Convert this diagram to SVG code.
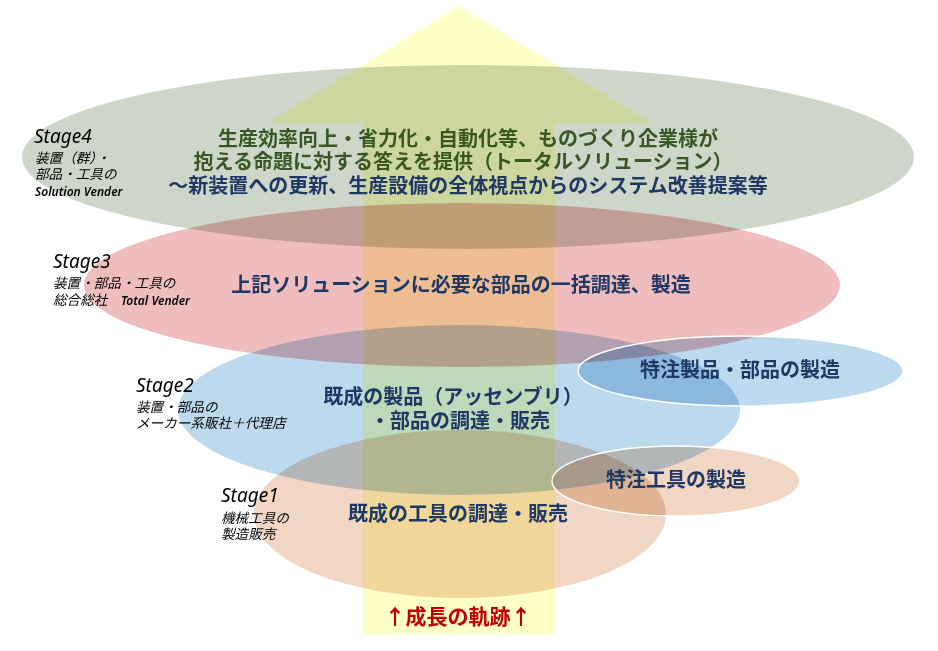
<svg xmlns="http://www.w3.org/2000/svg" width="938" height="651" viewBox="0 0 938 651">
<style>
.bl{mix-blend-mode:multiply}
.main{font-family:"Noto Sans CJK JP","Noto Sans",sans-serif;font-weight:bold;font-size:20px;text-anchor:middle;fill:#1F3864}
.grn{fill:#385723}
.lbl{font-family:"Noto Sans","Noto Sans CJK JP",sans-serif;font-style:italic;fill:#000}
.stg{font-size:19px}
.sub{font-size:13.6px}
.lat{font-size:12px;font-weight:600}
.edge{fill:none;stroke:#fff;stroke-width:1.3}
</style>
<rect width="938" height="651" fill="#fff"/>
<g id="growth-arrow">
<polygon class="bl" points="459,6 652,123 555,123 555,634 363,634 363,123 267,123" fill="#FFFFC8"/>
</g>
<g id="stage4">
<ellipse class="bl" cx="468" cy="157" rx="446" ry="92" fill="#CDD6C9"/>
</g>
<g id="stage3">
<ellipse class="bl" cx="462" cy="285" rx="378" ry="82" fill="#EFBDBD"/>
</g>
<g id="stage2">
<ellipse class="bl" cx="459" cy="410" rx="281" ry="85" fill="#BDD9EE"/>
</g>
<g id="stage1">
<ellipse class="bl" cx="460" cy="514" rx="206" ry="84" fill="#F0D6C3"/>
</g>
<g id="custom-parts">
<ellipse class="bl" cx="740.5" cy="371" rx="162.5" ry="35" fill="#BDD9EE"/>
<ellipse class="edge" cx="740.5" cy="371" rx="162.5" ry="35"/>
</g>
<g id="custom-tools">
<ellipse class="bl" cx="676" cy="481" rx="124" ry="35" fill="#F0D6C3"/>
<ellipse class="edge" cx="676" cy="481" rx="124" ry="35"/>
</g>
<g id="labels">
<text class="main grn" x="468" y="146">生産効率向上・省力化・自動化等、ものづくり企業様が</text>
<text class="main grn" x="463" y="169">抱える命題に対する答えを提供（トータルソリューション）</text>
<text class="main" x="468" y="193">～新装置への更新、生産設備の全体視点からのシステム改善提案等</text>
<text class="main" x="461" y="292">上記ソリューションに必要な部品の一括調達、製造</text>
<text class="main" x="453" y="404">既成の製品（アッセンブリ）</text>
<text class="main" x="460" y="428">・部品の調達・販売</text>
<text class="main" x="458" y="521">既成の工具の調達・販売</text>
<text class="main" x="740" y="377">特注製品・部品の製造</text>
<text class="main" x="676" y="487">特注工具の製造</text>
<text class="main" x="458" y="624" style="fill:#C00000;font-size:21px">↑成長の軌跡↑</text>
<text class="lbl stg" x="34" y="143">Stage4</text>
<text class="lbl sub" x="35" y="163">装置（群）・</text>
<text class="lbl sub" x="35" y="179">部品・工具の</text>
<text class="lbl lat" x="35" y="196">Solution Vender</text>
<text class="lbl stg" x="53" y="268">Stage3</text>
<text class="lbl sub" x="53" y="288">装置・部品・工具の</text>
<text class="lbl sub" x="53" y="305">総合総社　<tspan class="lat">Total Vender</tspan></text>
<text class="lbl stg" x="136" y="392">Stage2</text>
<text class="lbl sub" x="136" y="412">装置・部品の</text>
<text class="lbl sub" x="136" y="428">メーカー系販社＋代理店</text>
<text class="lbl stg" x="221" y="502">Stage1</text>
<text class="lbl sub" x="221" y="523">機械工具の</text>
<text class="lbl sub" x="221" y="539">製造販売</text>
</g>
</svg>
